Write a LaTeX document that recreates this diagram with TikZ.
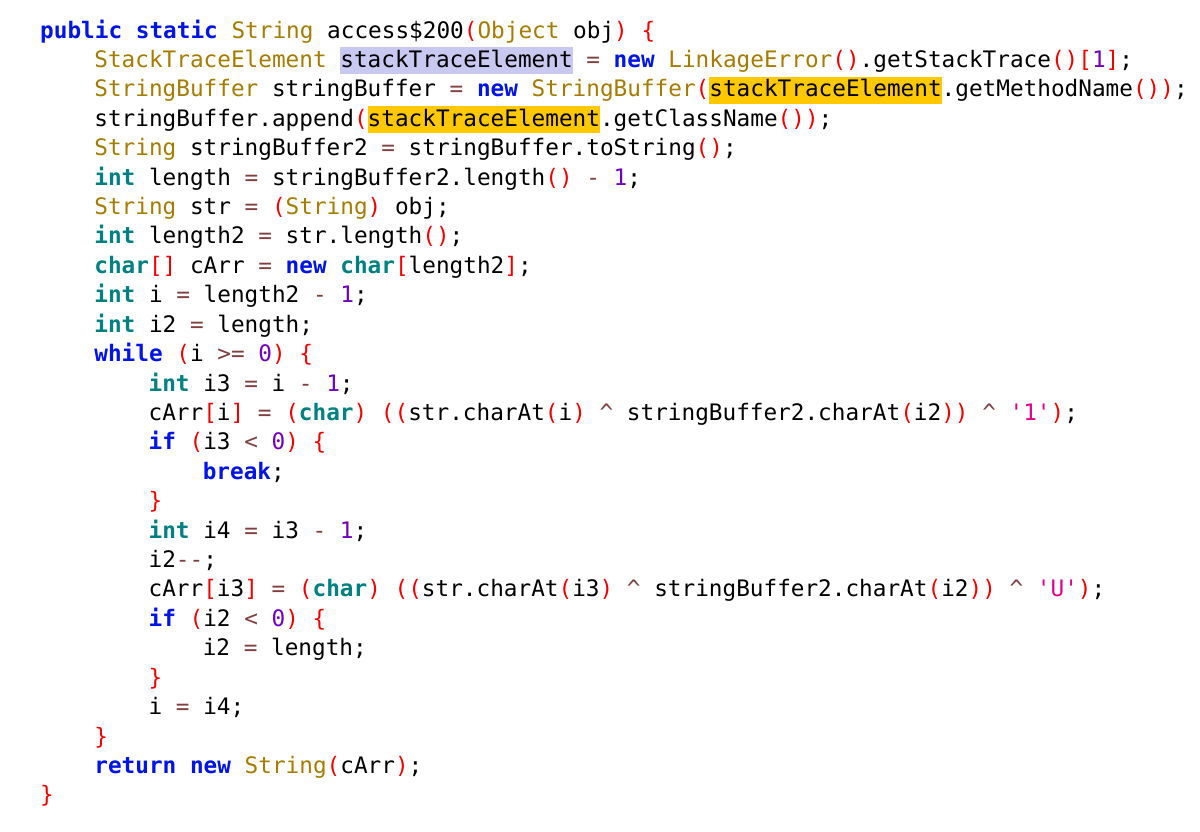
\documentclass[tikz,border=0pt]{standalone}
\usepackage{fontspec}
\newfontfamily\codefont{DejaVu Sans Mono}
\definecolor{ckw}{RGB}{0,20,230}
\definecolor{cpr}{RGB}{0,128,128}
\definecolor{cty}{RGB}{164,124,0}
\definecolor{cop}{RGB}{127,63,63}
\definecolor{cpa}{RGB}{240,0,0}
\definecolor{cnu}{RGB}{112,0,192}
\definecolor{cst}{RGB}{224,0,138}
\definecolor{chla}{RGB}{200,200,240}
\definecolor{chlb}{RGB}{255,200,0}
\newcommand\Kw[1]{{\bfseries\color{ckw}#1}}
\newcommand\Pm[1]{{\bfseries\color{cpr}#1}}
\newcommand\Ty[1]{{\color{cty}#1}}
\newcommand\Op[1]{{\color{cop}#1}}
\newcommand\Rd[1]{{\color{cpa}#1}}
\newcommand\Nu[1]{{\color{cnu}#1}}
\newcommand\St[1]{{\color{cst}#1}}
\newcommand\mystrut{\rule[-7pt]{0pt}{27pt}}
\newcommand\HA[1]{{\setlength\fboxsep{0pt}\colorbox{chla}{\mystrut#1}}}
\newcommand\HB[1]{{\setlength\fboxsep{0pt}\colorbox{chlb}{\mystrut#1}}}
\newcommand\Cf{\textasciicircum}
\tikzset{codeline/.style={anchor=base west,inner sep=0pt,font=\codefont\fontsize{22.7}{27}\selectfont}}
\begin{document}
\begin{tikzpicture}[x=1pt,y=-1pt]
\fill[white] (0,0) rectangle (1200,831);
\def\cw{13.55}
\def\LL#1#2#3{\node[codeline] (l#1) at ({40+#2*\cw},{38+(#1-1)*29.42}) {#3};}
\LL{1}{0}{\Kw{public} \Kw{static} \Ty{String} access\$200\Rd{(}\Ty{Object} obj\Rd{)} \Rd{\{}}
\LL{2}{4}{\Ty{StackTraceElement} \HA{stackTraceElement} \Op{=} \Kw{new} \Ty{LinkageError}\Rd{()}.getStackTrace\Rd{()}\Rd{[}\Nu{1}\Rd{]};}
\LL{3}{4}{\Ty{StringBuffer} stringBuffer \Op{=} \Kw{new} \Ty{StringBuffer}\Rd{(}\HB{stackTraceElement}.getMethodName\Rd{())};}
\LL{4}{4}{stringBuffer.append\Rd{(}\HB{stackTraceElement}.getClassName\Rd{())};}
\LL{5}{4}{\Ty{String} stringBuffer2 \Op{=} stringBuffer.toString\Rd{()};}
\LL{6}{4}{\Pm{int} length \Op{=} stringBuffer2.length\Rd{()} \Op{-} \Nu{1};}
\LL{7}{4}{\Ty{String} str \Op{=} \Rd{(}\Ty{String}\Rd{)} obj;}
\LL{8}{4}{\Pm{int} length2 \Op{=} str.length\Rd{()};}
\LL{9}{4}{\Pm{char}\Rd{[]} cArr \Op{=} \Kw{new} \Pm{char}\Rd{[}length2\Rd{]};}
\LL{10}{4}{\Pm{int} i \Op{=} length2 \Op{-} \Nu{1};}
\LL{11}{4}{\Pm{int} i2 \Op{=} length;}
\LL{12}{4}{\Kw{while} \Rd{(}i \Op{>=} \Nu{0}\Rd{)} \Rd{\{}}
\LL{13}{8}{\Pm{int} i3 \Op{=} i \Op{-} \Nu{1};}
\LL{14}{8}{cArr\Rd{[}i\Rd{]} \Op{=} \Rd{(}\Pm{char}\Rd{)} \Rd{((}str.charAt\Rd{(}i\Rd{)} \Op{\Cf} stringBuffer2.charAt\Rd{(}i2\Rd{))} \Op{\Cf} \St{'1'}\Rd{)};}
\LL{15}{8}{\Kw{if} \Rd{(}i3 \Op{<} \Nu{0}\Rd{)} \Rd{\{}}
\LL{16}{12}{\Kw{break};}
\LL{17}{8}{\Rd{\}}}
\LL{18}{8}{\Pm{int} i4 \Op{=} i3 \Op{-} \Nu{1};}
\LL{19}{8}{i2\Op{-{}-};}
\LL{20}{8}{cArr\Rd{[}i3\Rd{]} \Op{=} \Rd{(}\Pm{char}\Rd{)} \Rd{((}str.charAt\Rd{(}i3\Rd{)} \Op{\Cf} stringBuffer2.charAt\Rd{(}i2\Rd{))} \Op{\Cf} \St{'U'}\Rd{)};}
\LL{21}{8}{\Kw{if} \Rd{(}i2 \Op{<} \Nu{0}\Rd{)} \Rd{\{}}
\LL{22}{12}{i2 \Op{=} length;}
\LL{23}{8}{\Rd{\}}}
\LL{24}{8}{i \Op{=} i4;}
\LL{25}{4}{\Rd{\}}}
\LL{26}{4}{\Kw{return} \Kw{new} \Ty{String}\Rd{(}cArr\Rd{)};}
\LL{27}{0}{\Rd{\}}}
\end{tikzpicture}
\end{document}
